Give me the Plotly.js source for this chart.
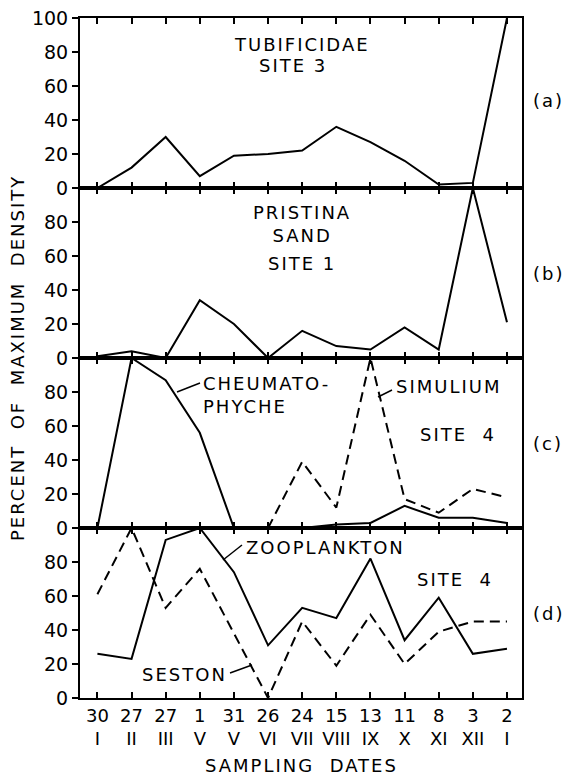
<!DOCTYPE html>
<html>
<head>
<meta charset="utf-8">
<script src="https://cdn.plot.ly/plotly-3.0.1.min.js"></script>
<style>html,body{margin:0;padding:0;background:#fff;}#chart{width:565px;height:777px;}
.annotation-text{letter-spacing:2px;}</style>
</head>
<body>
<div id="chart"></div>
<script>
const dates = ['30','27','27','1','31','26','24','15','13','11','8','3','2'];
const months = ['I','II','III','V','V','VI','VII','VIII','IX','X','XI','XII','I'];
const tubificidae = [0,12,30,7,19,20,22,36,27,16,2,3,100];
const pristina = [1,4,0,34,20,0,16,7,5,18,5,100,21];
const cheumatophyche = [0,100,87,56,0,null,0,2,3,13,6,6,3];
const simulium = [null,null,null,null,null,0,39,12,100,17,9,23,18];
const zooplankton = [26,23,93,100,74,31,53,47,82,34,59,26,29];
const seston = [61,100,53,76,38,0,45,19,49,20,39,45,45];

const xs = dates.map((d,i)=>i);
const ticktext = dates.map((d,i)=>d+'<br>'+months[i]);
const FONT = 'DejaVu Sans';
const TS = 18;
const L = 80, R = 522, T = 18, B = 698;
const px = x => (x - L)/(R - L);
const py = y => (B - y)/(B - T);

const solid = {color:'#000', width:2};
const dashed = {color:'#000', width:2, dash:'10px,6px'};
function tr(y, xa, ya, line){ return {x:xs, y:y, xaxis:xa, yaxis:ya, mode:'lines', line:line, connectgaps:false, hoverinfo:'skip', showlegend:false}; }

const data = [
  tr(tubificidae,'x4','y4',solid),
  tr(pristina,'x3','y3',solid),
  tr(cheumatophyche,'x2','y2',solid),
  tr(simulium,'x2','y2',dashed),
  tr(zooplankton,'x','y',solid),
  tr(seston,'x','y',dashed)
];

function yax(domain, top, anchor){
  return {domain:domain, range:[0,100], tickvals: top?[0,20,40,60,80,100]:[0,20,40,60,80],
    ticks:'outside', ticklen:6, tickwidth:2, tickcolor:'#000', showline:true, linewidth:2, linecolor:'#000',
    mirror:true, showgrid:false, zeroline:false, tickfont:{family:FONT, size:19, color:'#000'}, anchor:anchor, fixedrange:true};
}

const textAnn = (t, x, y, xa) => ({text:t, xref:'paper', yref:'paper', x:px(x), y:py(y), xanchor:xa||'center', yanchor:'middle', align:xa==='left'?'left':'center', showarrow:false, font:{family:FONT, size:TS, color:'#000'}});

const annotations = [
  textAnn('TUBIFICIDAE', 302, 45),
  textAnn('SITE 3', 293, 66),
  textAnn('PRISTINA<br>SAND', 302, 224),
  textAnn('SITE 1', 302, 263),
  textAnn('CHEUMATO-<br>PHYCHE', 201, 395, 'left'),
  textAnn('SIMULIUM', 394, 386, 'left'),
  textAnn('SITE  4', 458, 434),
  textAnn('ZOOPLANKTON', 244, 547, 'left'),
  textAnn('SITE  4', 455, 579),
  textAnn('SESTON', 229, 674, 'right'),
  textAnn('(a)', 548, 100),
  textAnn('(b)', 548, 273),
  textAnn('(c)', 548, 443),
  textAnn('(d)', 548, 613),
  textAnn('SAMPLING  DATES', 301, 765),
  Object.assign(textAnn('PERCENT  OF  MAXIMUM  DENSITY', 17, 358), {textangle:-90})
];

const lead = (x0,y0,x1,y1) => ({type:'line', xref:'paper', yref:'paper', x0:px(x0), y0:py(y0), x1:px(x1), y1:py(y1), line:{color:'#000', width:1.5}});
const shapes = [
  lead(177,392,200,383),
  lead(378,397,392,390),
  lead(223,560,242,545),
  lead(230,673,252,665)
];

function xax(anchor, labels){
  const a = {domain:[0,1], range:[-0.51,12.44], tickvals:xs, ticks:'inside', ticklen:6, tickwidth:2, tickcolor:'#000',
    showline:true, linewidth:2, linecolor:'#000', mirror:'ticks', showgrid:false, zeroline:false, fixedrange:true, anchor:anchor};
  if (labels) { a.ticktext = ticktext; a.tickfont = {family:FONT, size:18, color:'#000'}; }
  else { a.showticklabels = false; }
  return a;
}

const layout = {
  width:565, height:777,
  margin:{l:L, r:565-R, t:T, b:777-B},
  paper_bgcolor:'#fff', plot_bgcolor:'#fff',
  font:{family:FONT, color:'#000'},
  xaxis: xax('y', true),
  xaxis2: xax('y2', false),
  xaxis3: xax('y3', false),
  xaxis4: xax('y4', false),
  yaxis: yax([0,0.25], false, 'x'),
  yaxis2: yax([0.25,0.5], false, 'x2'),
  yaxis3: yax([0.5,0.75], false, 'x3'),
  yaxis4: yax([0.75,1], true, 'x4'),
  annotations: annotations,
  shapes: shapes,
  showlegend:false
};
Plotly.newPlot('chart', data, layout, {staticPlot:true, displayModeBar:false});
</script>
</body>
</html>
